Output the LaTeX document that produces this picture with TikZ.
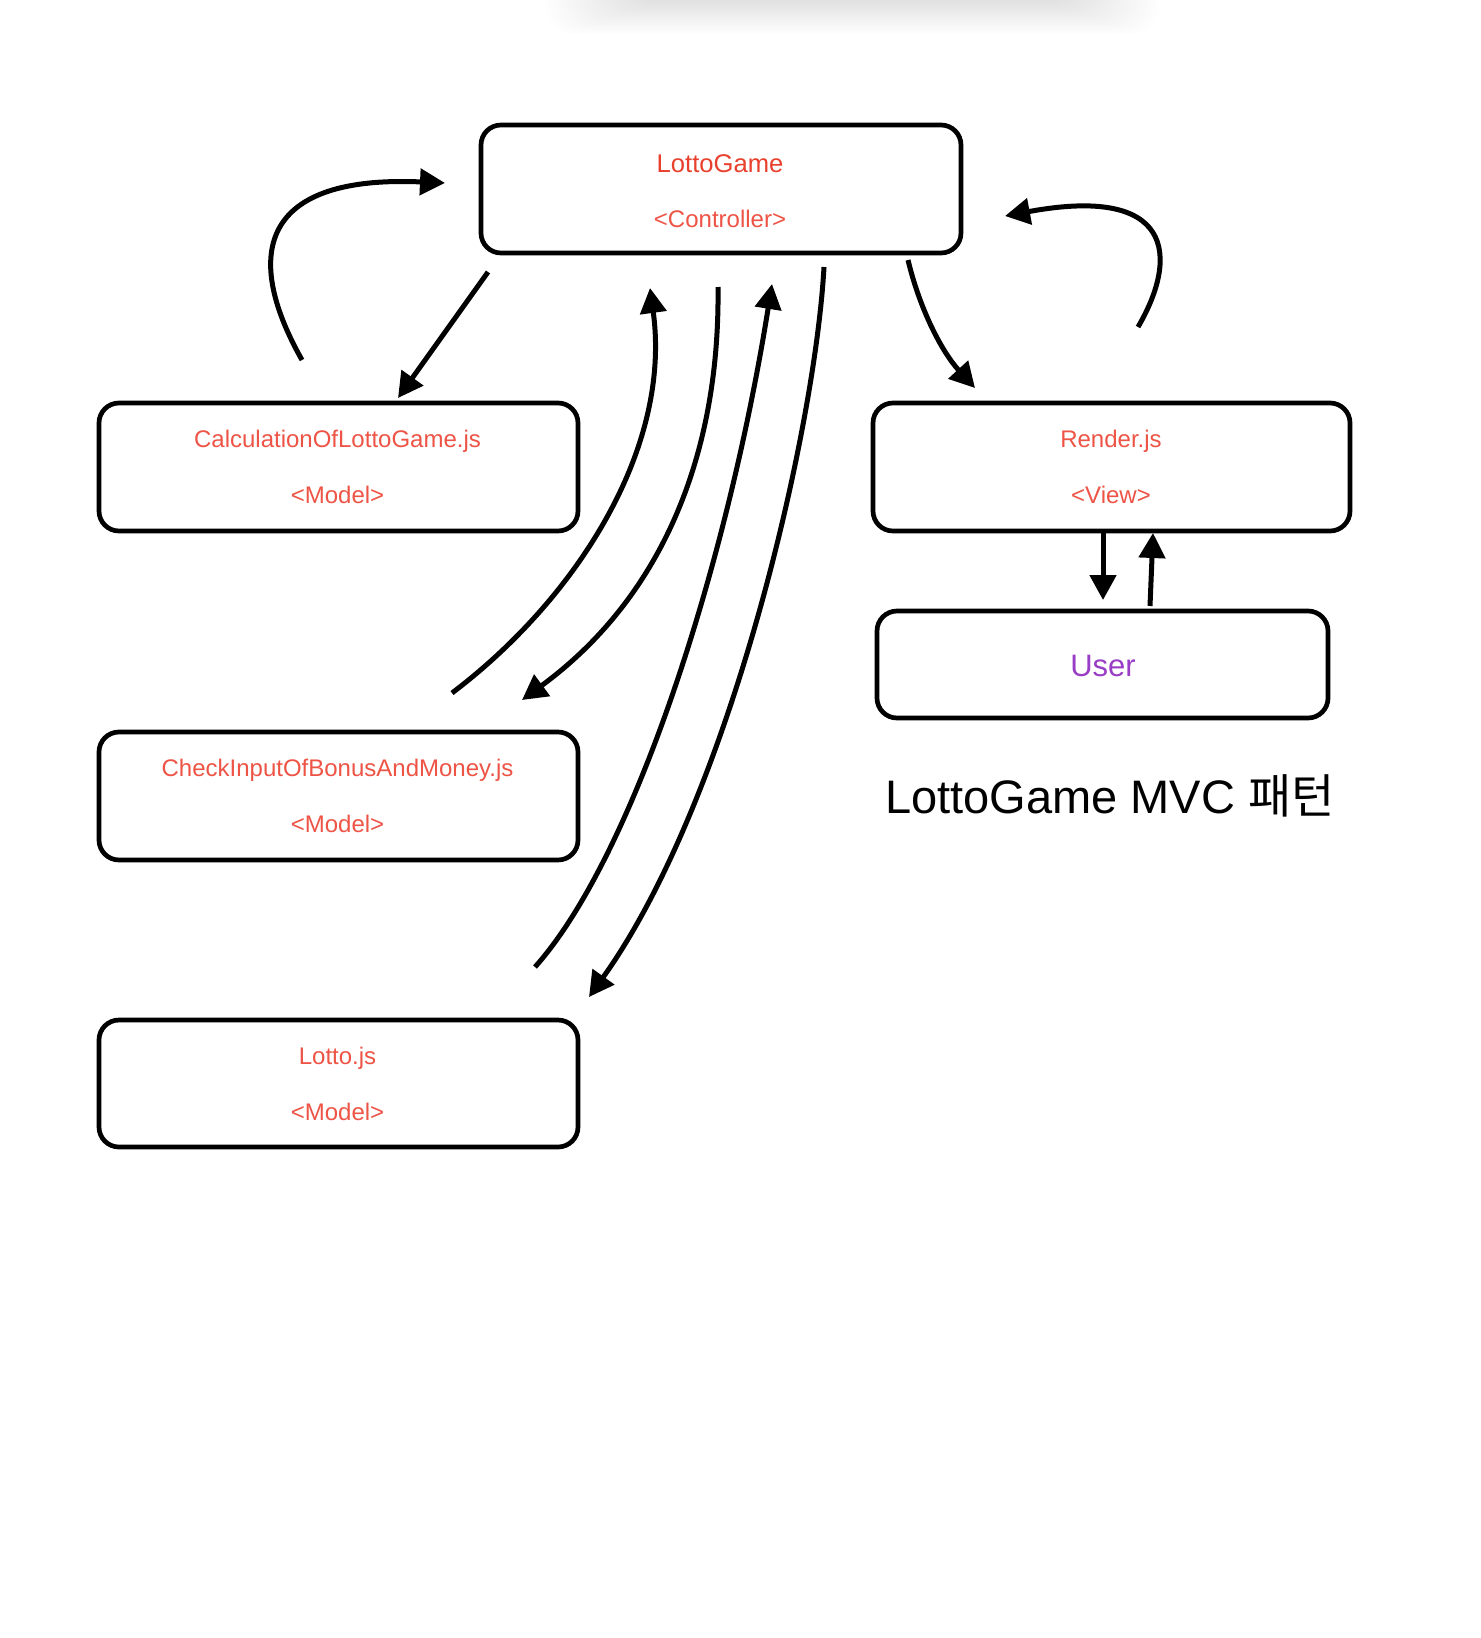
\documentclass[tikz,border=0pt]{standalone}
\usepackage{fontspec}
\setmainfont{Liberation Sans}
\newfontfamily\krfont{Noto Sans CJK KR}
\usetikzlibrary{arrows.meta}
\definecolor{lblred}{HTML}{EE5446}
\definecolor{ttlred}{HTML}{E8402D}
\definecolor{userpurple}{HTML}{9A3DC6}
\tikzset{
  box/.style={draw=black, line width=2.35pt, rounded corners=10pt, fill=white, inner sep=0pt},
  lbl/.style={anchor=base, text=lblred, font=\fontsize{12pt}{14pt}\selectfont, inner sep=0pt},
  conn/.style={line width=2.5pt, -{Triangle[length=12.5pt,width=13pt]}},
}
\begin{document}
\begin{tikzpicture}[x=0.5pt,y=-0.5pt]
\useasboundingbox (0,0) rectangle (1481,1638);
\fill[white] (0,0) rectangle (1481,1638);
\clip (0,0) rectangle (1481,1638);
% soft shadow at top
\foreach \i in {0,...,29}{
  \fill[black, opacity=0.005, rounded corners=14pt] (545+3*\i,-60) rectangle (1160-3*\i,34-1.1*\i);
}
% boxes
\node[box, minimum width=240pt, minimum height=64pt] (ctrl) at (721,189) {};
\node[box, minimum width=239.5pt, minimum height=64pt] (calc) at (338.5,467) {};
\node[box, minimum width=239.5pt, minimum height=64pt] (check) at (338.5,796) {};
\node[box, minimum width=239.5pt, minimum height=63.5pt] (lotto) at (338.5,1083.5) {};
\node[box, minimum width=238.5pt, minimum height=64pt] (render) at (1111.5,467) {};
\node[box, minimum width=225.5pt, minimum height=53.5pt] (user) at (1102.5,664.5) {};
% labels
\node[lbl, text=ttlred, font=\fontsize{12.8pt}{15pt}\selectfont] (ctrlA) at (720,172) {LottoGame};
\node[lbl] (ctrlB) at (720,227) {<Controller>};
\node[lbl] (calcA) at (337.5,447) {CalculationOfLottoGame.js};
\node[lbl] (calcB) at (337.5,503) {<Model>};
\node[lbl] (checkA) at (337.5,776) {CheckInputOfBonusAndMoney.js};
\node[lbl] (checkB) at (337.5,832) {<Model>};
\node[lbl] (lottoA) at (337.5,1064) {Lotto.js};
\node[lbl] (lottoB) at (337.5,1120) {<Model>};
\node[lbl] (renderA) at (1111,447) {Render.js};
\node[lbl] (renderB) at (1111,503) {<View>};
\node[lbl, text=userpurple, font=\fontsize{15.5pt}{18pt}\selectfont] (userA) at (1103,676) {User};
\node[anchor=base, inner sep=0pt, font=\fontsize{23.5pt}{28pt}\selectfont] (title) at (1110,813) {LottoGame MVC {\krfont 패턴}};
% connector end points
\coordinate (a1) at (302,360);  \coordinate (a2) at (445,183);
\coordinate (b1) at (488,272);  \coordinate (b2) at (398,398);
\coordinate (c1) at (452,693);  \coordinate (c2) at (650,288);
\coordinate (d1) at (718,287);  \coordinate (d2) at (522,700);
\coordinate (e1) at (535,967);  \coordinate (e2) at (772,284);
\coordinate (f1) at (824,267);  \coordinate (f2) at (589,997);
\coordinate (g1) at (908,260);  \coordinate (g2) at (975,388);
\coordinate (h1) at (1138,327); \coordinate (h2) at (1005,216);
\coordinate (i1) at (1103,533); \coordinate (i2) at (1103,600);
\coordinate (j1) at (1150,606); \coordinate (j2) at (1153,533);
% connectors
\draw[conn] (a1) .. controls (240,250) and (265,175) .. (a2);
\draw[conn] (b1) -- (b2);
\draw[conn] (c1) .. controls (575,600) and (672,450) .. (c2);
\draw[conn] (d1) .. controls (720,450) and (665,595) .. (d2);
\draw[conn] (e1) .. controls (635,855) and (728,560) .. (e2);
\draw[conn] (f1) .. controls (815,430) and (730,800) .. (f2);
\draw[conn] (g1) .. controls (920,310) and (942,352) .. (g2);
\draw[conn] (h1) .. controls (1180,255) and (1172,185) .. (h2);
\draw[conn] (i1) -- (i2);
\draw[conn] (j1) -- (j2);
\end{tikzpicture}
\end{document}
